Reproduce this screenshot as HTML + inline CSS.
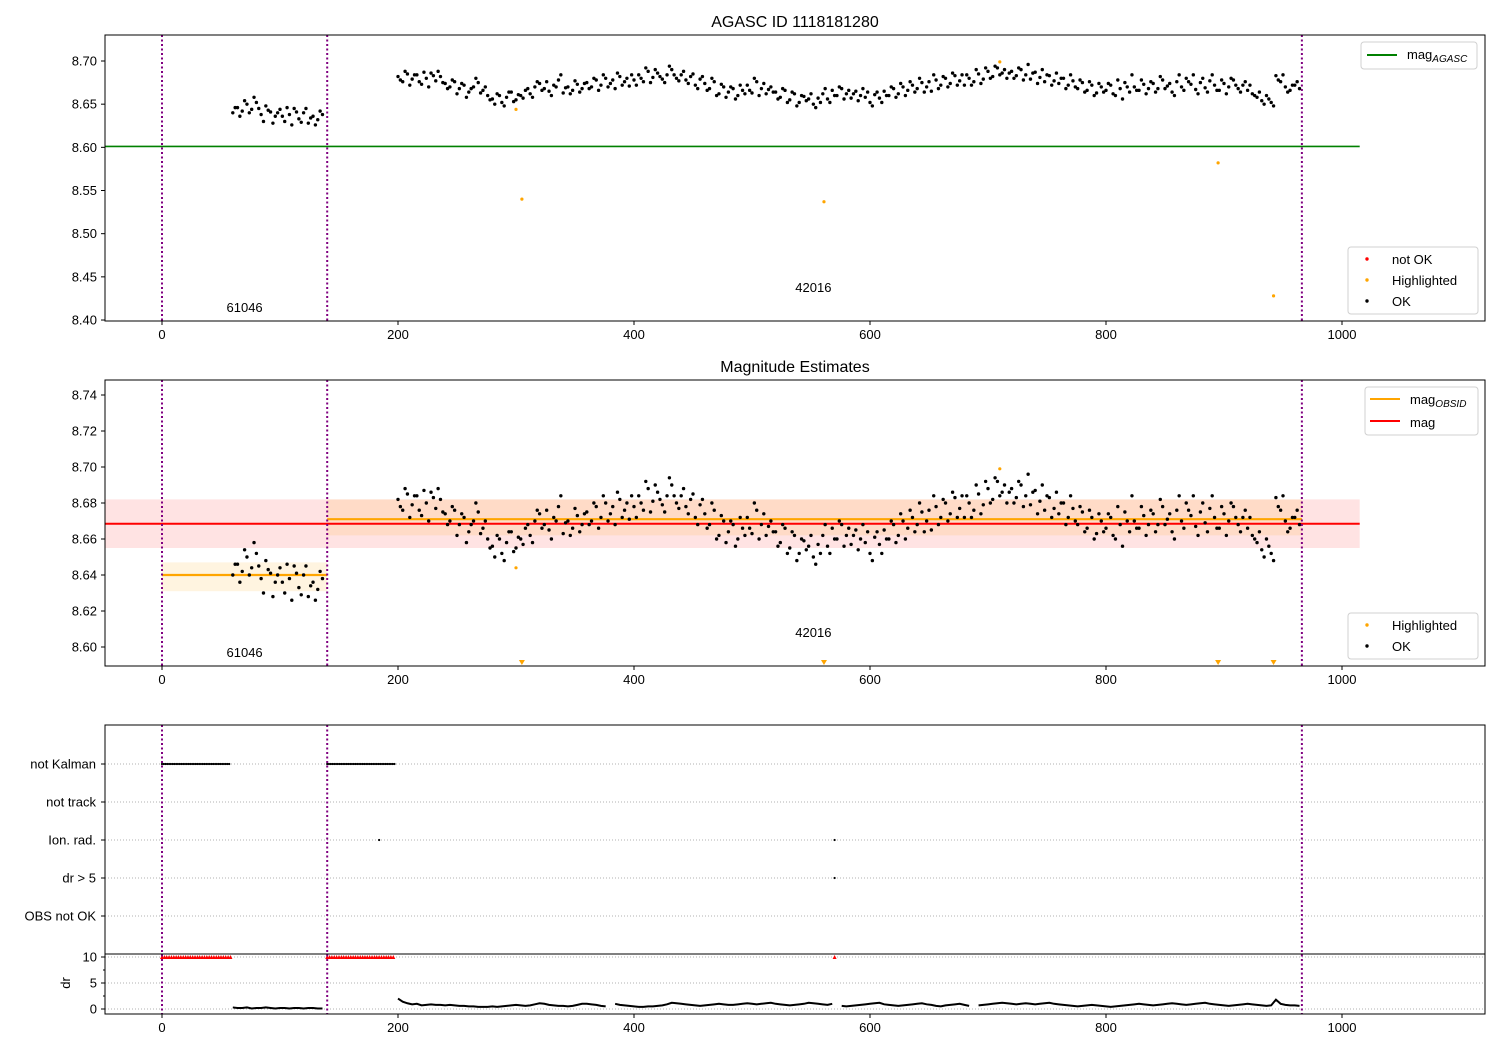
<!DOCTYPE html>
<html><head><meta charset="utf-8"><style>
body{margin:0;background:#fff}
svg{display:block;font-family:"Liberation Sans","DejaVu Sans",sans-serif}
</style></head><body>
<svg id="c" width="1500" height="1050" viewBox="0 0 1500 1050"></svg>
<script>
// ---- data ----
const segAStart = 60, segBStart = 200, stepT = 4;
const segA2Start = 62, segB2Start = 202;
const magA = [8.640,8.646,8.642,8.650,8.644,8.652,8.638,8.648,8.641,8.636,8.644,8.630,8.638,8.645,8.633,8.640,8.628,8.636,8.632,8.638];
const magA2 = [8.646,8.636,8.654,8.640,8.658,8.645,8.630,8.643,8.628,8.640,8.636,8.646,8.626,8.641,8.629,8.645,8.634,8.626,8.642];
const magB = [8.682,8.676,8.685,8.679,8.684,8.673,8.680,8.686,8.677,8.682,
8.674,8.670,8.676,8.668,8.672,8.664,8.670,8.675,8.666,8.660,
8.656,8.662,8.652,8.658,8.664,8.655,8.660,8.666,8.662,8.670,
8.674,8.668,8.665,8.672,8.678,8.663,8.670,8.666,8.673,8.668,
8.675,8.670,8.678,8.672,8.680,8.674,8.668,8.682,8.676,8.671,
8.678,8.684,8.676,8.688,8.681,8.686,8.679,8.684,8.690,8.680,
8.684,8.678,8.682,8.672,8.679,8.674,8.668,8.676,8.662,8.670,
8.664,8.668,8.660,8.666,8.672,8.663,8.676,8.668,8.662,8.670,
8.664,8.658,8.666,8.655,8.662,8.652,8.659,8.656,8.650,8.657,
8.662,8.656,8.666,8.660,8.668,8.662,8.657,8.665,8.660,8.658,
8.652,8.661,8.657,8.665,8.660,8.668,8.662,8.670,8.666,8.672,
8.668,8.675,8.670,8.665,8.678,8.672,8.680,8.674,8.683,8.677,
8.672,8.680,8.676,8.685,8.679,8.688,8.682,8.692,8.686,8.680,
8.688,8.683,8.690,8.684,8.679,8.687,8.681,8.676,8.683,8.677,
8.674,8.680,8.672,8.677,8.668,8.675,8.666,8.672,8.663,8.670,
8.666,8.672,8.660,8.668,8.675,8.664,8.670,8.666,8.673,8.668,
8.674,8.668,8.678,8.671,8.664,8.676,8.670,8.680,8.673,8.667,
8.675,8.669,8.677,8.672,8.666,8.674,8.670,8.678,8.668,8.672,
8.666,8.662,8.658,8.654,8.660,8.652,8.683,8.676,8.670,8.666,
8.672,8.668];
const magB2 = [8.678,8.688,8.672,8.684,8.676,8.687,8.670,8.683,8.688,8.675,
8.668,8.678,8.662,8.674,8.658,8.668,8.680,8.663,8.670,8.655,
8.650,8.660,8.648,8.664,8.653,8.661,8.657,8.668,8.658,8.676,
8.666,8.676,8.660,8.670,8.684,8.669,8.662,8.677,8.664,8.674,
8.668,8.680,8.666,8.684,8.670,8.678,8.686,8.672,8.680,8.684,
8.672,8.680,8.692,8.675,8.690,8.682,8.675,8.694,8.684,8.677,
8.688,8.674,8.685,8.668,8.682,8.666,8.680,8.660,8.673,8.658,
8.670,8.656,8.672,8.662,8.666,8.680,8.660,8.674,8.667,8.664,
8.656,8.668,8.652,8.664,8.648,8.660,8.654,8.662,8.646,8.652,
8.668,8.652,8.660,8.670,8.656,8.666,8.662,8.654,8.668,8.664,
8.648,8.664,8.652,8.660,8.670,8.658,8.674,8.660,8.676,8.664,
8.680,8.664,8.676,8.684,8.668,8.682,8.670,8.686,8.672,8.684,
8.684,8.672,8.690,8.674,8.692,8.680,8.694,8.684,8.690,8.686,
8.680,8.692,8.678,8.696,8.686,8.674,8.690,8.684,8.672,8.686,
8.680,8.668,8.684,8.670,8.678,8.664,8.676,8.660,8.674,8.664,
8.674,8.662,8.678,8.656,8.670,8.684,8.666,8.678,8.662,8.676,
8.664,8.682,8.668,8.674,8.660,8.684,8.666,8.676,8.684,8.662,
8.680,8.664,8.684,8.666,8.678,8.662,8.680,8.672,8.664,8.676,
8.672,8.660,8.664,8.650,8.656,8.648,8.678,8.684,8.664,8.672,
8.676];
const drA = [0.3,0.2,0.2,0.3,0.1,0.2,0.2,0.3,0.2,0.1,0.2,0.2,0.1,0.2,0.2,0.1,0.2,0.2,0.1,0.1];
const drB = [2.0,1.4,1.1,0.9,1.0,0.7,0.8,0.9,0.8,0.8,
0.7,0.8,0.7,0.6,0.6,0.5,0.5,0.4,0.4,0.4,
0.5,0.4,0.5,0.6,0.7,0.8,0.7,0.6,0.7,0.9,
1.1,1.0,0.8,0.7,0.6,0.6,0.5,0.6,0.8,1.0,
1.0,0.9,0.8,0.6,0.5,null,1.0,0.8,0.7,0.6,
0.5,0.4,0.4,0.5,0.5,0.6,0.7,0.9,1.2,1.1,
1.0,0.9,0.8,0.7,0.6,0.7,0.8,0.9,1.0,0.9,
0.8,0.8,0.9,1.0,1.1,1.0,0.9,1.0,1.1,1.2,
1.0,0.9,0.8,0.7,0.8,0.9,1.0,1.2,1.1,1.0,
0.9,0.8,1.0,null,0.6,0.5,0.6,0.7,0.8,0.9,
1.0,1.1,1.2,0.9,0.8,0.7,0.6,0.7,0.8,0.9,
1.0,1.1,0.9,0.8,0.6,0.5,0.7,0.8,0.9,1.0,
0.8,0.6,null,0.7,0.8,0.9,1.0,1.1,1.2,1.1,
1.0,0.9,1.0,1.1,1.0,0.9,1.0,1.1,1.2,1.0,
0.9,0.8,0.7,0.6,0.5,0.6,0.7,0.8,0.7,0.6,
0.5,0.4,0.5,0.6,0.7,0.8,0.9,1.0,0.9,0.8,
0.7,0.8,0.9,1.0,1.1,1.0,0.9,0.8,0.9,1.0,
1.1,1.2,1.0,0.9,0.8,0.7,0.6,0.7,0.8,0.9,
1.0,0.9,0.8,0.7,0.6,0.7,1.8,1.0,0.8,0.7,
0.7,0.6];
const hlT = [300,305,561,895,942,710];
const hlMag = [8.644,8.540,8.537,8.582,8.428,8.699];
const magAgasc = 8.601;
const magMean = 8.6685, magMeanLo = 8.655, magMeanHi = 8.682;
const obsT0 = [0,140], obsT1 = [140,966];
const obsMag = [8.640,8.671], obsLo = [8.631,8.662], obsHi = [8.647,8.682];
const obsBounds = [0,140,966];
const obsLabels = ["61046","42016"];
const obsLabelT = [70,552];
const notKalmanRanges = [[0,58],[140,197]];
const ionRadT = [184,570];
const drBigT = [570];
const notOkRanges = [[0,58],[140,197]];
const notOkSingle = [570];
const xTicks = [0,200,400,600,800,1000];
const y1Ticks = [8.40,8.45,8.50,8.55,8.60,8.65,8.70];
const y2Ticks = [8.60,8.62,8.64,8.66,8.68,8.70,8.72,8.74];
const flagLabels = ["not Kalman","not track","Ion. rad.","dr > 5","OBS not OK"];
const drTicks = [0,5,10];

// ---- helpers ----
const svg = document.getElementById('c');
const NS = 'http://www.w3.org/2000/svg';
function mk(tag, at, parent){ const e=document.createElementNS(NS,tag); for(const k in at) e.setAttribute(k,at[k]); (parent||svg).appendChild(e); return e; }
const X = t => 162 + t*1.18;
const L = 105, R = 1485;
const Y1 = v => 61 + (8.70 - v)/0.05*43.17;
const Y2 = v => 395 + (8.74 - v)/0.02*36;
const YF = i => 764 + i*38;
const YD = v => 1009 - v*5.2;

const pts = magA.map((m,i)=>[segAStart+i*stepT, m])
  .concat(magA2.map((m,i)=>[segA2Start+i*stepT, m]))
  .concat(magB.map((m,i)=>[segBStart+i*stepT, m]))
  .concat(magB2.map((m,i)=>[segB2Start+i*stepT, m]));

function frame(top,bot,name){
  const r = mk('rect',{x:L,y:top,width:R-L,height:bot-top,fill:'none',stroke:'#000','stroke-width':1});
  
  
}
function xAxis(bot,name){
  const g = mk('g',{});
  
  
  xTicks.forEach(t=>{
    mk('line',{x1:X(t),x2:X(t),y1:bot,y2:bot+4,stroke:'#000'},g);
    const tx = mk('text',{x:X(t),y:bot+18,'font-size':13,'text-anchor':'middle'},g); tx.textContent=t;
  });
}
function yAxis(ticks,Yf,fmt,name){
  const g = mk('g',{});
  
  
  ticks.forEach(v=>{
    mk('line',{x1:L-4,x2:L,y1:Yf(v),y2:Yf(v),stroke:'#000'},g);
    const tx = mk('text',{x:L-8,y:Yf(v)+4.5,'font-size':13,'text-anchor':'end'},g); tx.textContent=fmt(v);
  });
}
function vlines(top,bot,name){
  obsBounds.forEach(t=>{
    const l = mk('line',{x1:X(t),x2:X(t),y1:top,y2:bot,stroke:'#800080','stroke-width':2,'stroke-dasharray':'2,2.5'});
    
    
  });
}
function dots(list,Yf,col,r,name){
  const g = mk('g',{});
  
  
  list.forEach(p=>mk('circle',{cx:X(p[0]),cy:Yf(p[1]),r:r,fill:col},g));
}

// ---- titles ----
let t = mk('text',{x:795,y:27,'font-size':16,'text-anchor':'middle'}); t.textContent='AGASC ID 1118181280';
 
t = mk('text',{x:795,y:372,'font-size':16,'text-anchor':'middle'}); t.textContent='Magnitude Estimates';
 

// ---- panel 1 ----
let gl = mk('line',{x1:L,x2:X(1015),y1:Y1(magAgasc),y2:Y1(magAgasc),stroke:'#008000','stroke-width':1.6});
 
dots(pts,Y1,'#000',1.7,'ok-points-top');
dots(hlT.map((x,i)=>[x,hlMag[i]]),Y1,'#ffa500',1.6,'highlighted-points-top');
vlines(35,321,'obs-boundary-top');
obsLabels.forEach((s,i)=>{const e=mk('text',{x:X(obsLabelT[i]),y:i==0?312:292,'font-size':13,'text-anchor':'middle'});e.textContent=s;
   });
frame(35,321,'top-plot-area');
xAxis(321,'top-x-axis');
yAxis(y1Ticks,Y1,v=>v.toFixed(2),'top-y-axis');

// ---- panel 2 ----
let band = mk('rect',{x:L,y:Y2(magMeanHi),width:X(1015)-L,height:Y2(magMeanLo)-Y2(magMeanHi),fill:'rgba(255,0,0,0.11)'});
 
[obsT0,obsT1].forEach((r,i)=>{
  const b = mk('rect',{x:X(r[0]),y:Y2(obsHi[i]),width:X(r[1])-X(r[0]),height:Y2(obsLo[i])-Y2(obsHi[i]),fill:'rgba(255,165,0,0.12)'});
   
});
let ml = mk('line',{x1:L,x2:X(1015),y1:Y2(magMean),y2:Y2(magMean),stroke:'#ff0000','stroke-width':2});
 
[obsT0,obsT1].forEach((r,i)=>{
  const l = mk('line',{x1:X(r[0]),x2:X(r[1]),y1:Y2(obsMag[i]),y2:Y2(obsMag[i]),stroke:'#ffa500','stroke-width':2.2});
   
});
dots(pts,Y2,'#000',1.7,'ok-points-mid');
const hlIn = [], hlOut=[];
hlT.forEach((x,i)=>{ (hlMag[i] < 8.592 ? hlOut : hlIn).push([x,hlMag[i]]); });
dots(hlIn,Y2,'#ffa500',1.6,'highlighted-points-mid');
hlOut.forEach(p=>{const x=X(p[0]);const tri=mk('path',{d:`M${x-3},660 L${x+3},660 L${x},665 Z`,fill:'#ffa500'});
   });
vlines(380,666,'obs-boundary-mid');
obsLabels.forEach((s,i)=>{const e=mk('text',{x:X(obsLabelT[i]),y:i==0?657:637,'font-size':13,'text-anchor':'middle'});e.textContent=s;
   });
frame(380,666,'middle-plot-area');
xAxis(666,'middle-x-axis');
yAxis(y2Ticks,Y2,v=>v.toFixed(2),'middle-y-axis');

// ---- panel 3 ----
flagLabels.forEach((s,i)=>{
  const g = mk('line',{x1:L,x2:R,y1:YF(i),y2:YF(i),stroke:'#b0b0b0','stroke-dasharray':'1,2'});
   
  mk('line',{x1:L-4,x2:L,y1:YF(i),y2:YF(i),stroke:'#000'});
  const e=mk('text',{x:96,y:YF(i)+4.5,'font-size':13,'text-anchor':'end'}); e.textContent=s;
   
});
drTicks.forEach(v=>{
  const g = mk('line',{x1:L,x2:R,y1:YD(v),y2:YD(v),stroke:'#b0b0b0','stroke-dasharray':'1,2'});
   
});
const nk=[]; notKalmanRanges.forEach(r=>{for(let x=r[0];x<=r[1];x+=1.5) nk.push([x,0]);});
dots(nk,()=>YF(0),'#000',1.1,'not-kalman-points');
dots(ionRadT.map(x=>[x,0]),()=>YF(2),'#000',1.1,'ion-rad-points');
dots(drBigT.map(x=>[x,0]),()=>YF(3),'#000',1.1,'dr-gt-5-points');
// dr series
const drPts = drA.map((d,i)=>[segAStart+i*stepT,d]).concat(drB.map((d,i)=>[segBStart+i*stepT,d]));
let seg=[]; const segs=[];
drPts.forEach((p,i)=>{ if(p[1]===null){ if(seg.length) segs.push(seg); seg=[]; } else { seg.push(p); if(i==drA.length-1){segs.push(seg);seg=[];} } });
if(seg.length) segs.push(seg);
segs.forEach(s=>{
  const pl = mk('polyline',{points:s.map(p=>X(p[0])+','+YD(p[1])).join(' '),fill:'none',stroke:'#000','stroke-width':2});
   
});
const no=[]; notOkRanges.forEach(r=>{for(let x=r[0];x<=r[1];x+=2) no.push(x);}); notOkSingle.forEach(x=>no.push(x));
const ng = mk('g',{});  
no.forEach(x=>{const cx=X(x),cy=YD(10); mk('path',{d:`M${cx-2},${cy+2} L${cx+2},${cy+2} L${cx},${cy-2} Z`,fill:'#ff0000'},ng);});
vlines(725,1014,'obs-boundary-bottom');
frame(725,1014,'bottom-plot-area');
let sep = mk('line',{x1:L,x2:R,y1:954,y2:954,stroke:'#000','stroke-width':1});
 
xAxis(1014,'bottom-x-axis');
yAxis(drTicks,YD,v=>v,'dr-y-axis');
[2.5,7.5].forEach(v=>mk('line',{x1:L-2,x2:L,y1:YD(v),y2:YD(v),stroke:'#000'}));
t = mk('text',{x:70,y:983,'font-size':13,'text-anchor':'middle',transform:'rotate(-90 70 983)'}); t.textContent='dr';
 

// ---- legends ----
function legendBox(x,y,w,h,name){const r=mk('rect',{x:x,y:y,width:w,height:h,rx:3,fill:'#fff','fill-opacity':0.8,stroke:'#d0d0d0'});
   }
function legendText(x,y,html){const e=mk('text',{x:x,y:y,'font-size':13});e.innerHTML=html;return e;}
legendBox(1361,42,116,27,'legend-top-lines');
mk('line',{x1:1367,x2:1397,y1:55,y2:55,stroke:'#008000','stroke-width':2});
legendText(1407,59,'mag<tspan font-size="10" font-style="italic" dy="3">AGASC</tspan>');
legendBox(1348,247,130,67,'legend-top-points');
[['#ff0000','not OK'],['#ffa500','Highlighted'],['#000','OK']].forEach((e,i)=>{
  mk('circle',{cx:1367,cy:259+i*21,r:1.7,fill:e[0]});
  const tx=legendText(1392,264+i*21,e[1]);  
});
legendBox(1365,387,113,48,'legend-mid-lines');
mk('line',{x1:1370,x2:1400,y1:399,y2:399,stroke:'#ffa500','stroke-width':2});
legendText(1410,404,'mag<tspan font-size="10" font-style="italic" dy="3">OBSID</tspan>');
mk('line',{x1:1370,x2:1400,y1:421,y2:421,stroke:'#ff0000','stroke-width':2});
legendText(1410,427,'mag');
legendBox(1348,613,130,46,'legend-mid-points');
[['#ffa500','Highlighted'],['#000','OK']].forEach((e,i)=>{
  mk('circle',{cx:1367,cy:625+i*21,r:1.7,fill:e[0]});
  const tx=legendText(1392,630+i*21,e[1]);  
});
</script>
</body></html>
